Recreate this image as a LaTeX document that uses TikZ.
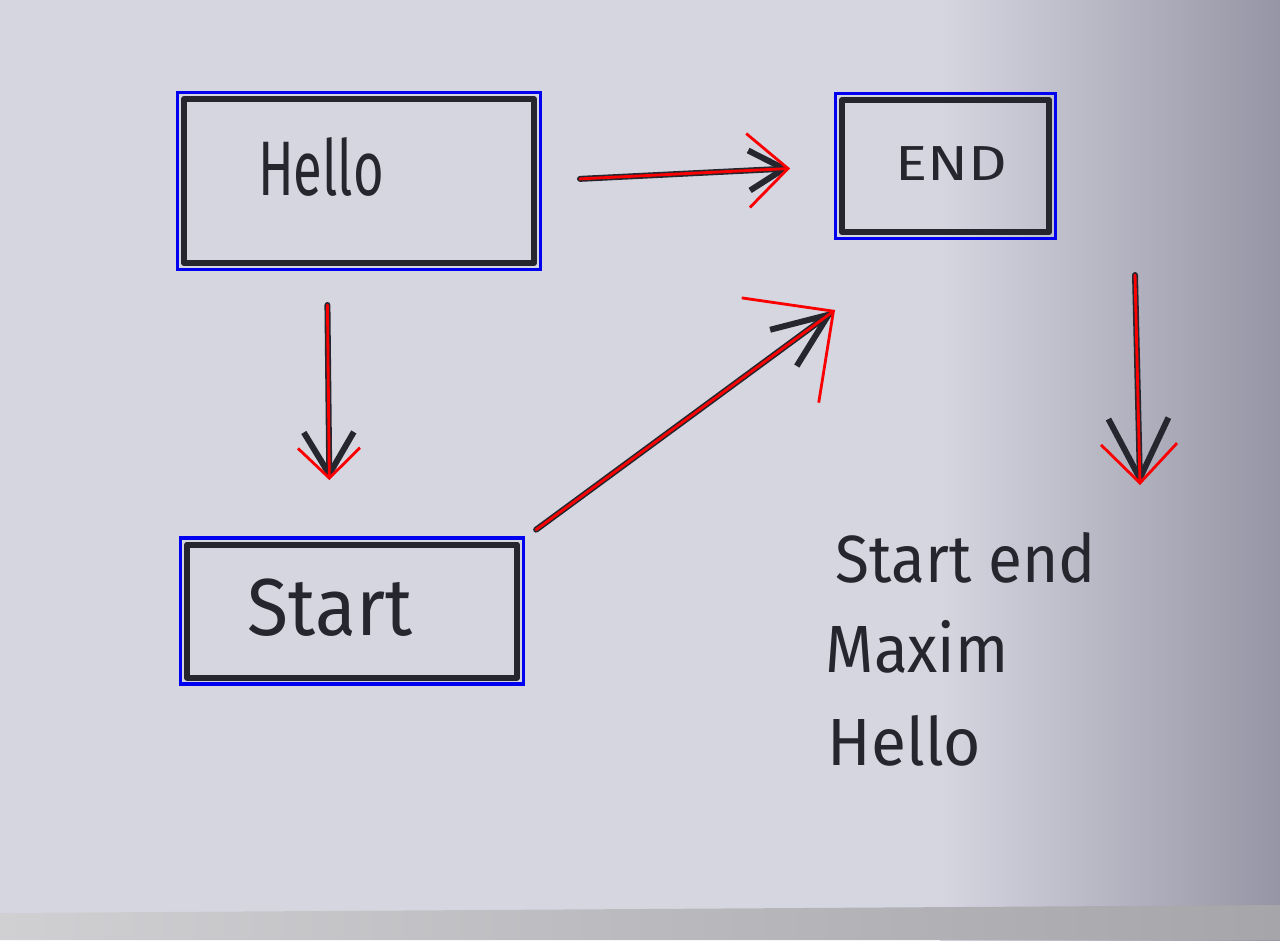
\documentclass[tikz,border=0pt]{standalone}
\usepackage{fontspec}
\setmainfont{Fira Sans}
\newfontfamily\handfont{Fira Sans}
\usetikzlibrary{arrows.meta,fit}

\definecolor{paperlight}{RGB}{214,214,225}
\definecolor{paperdark}{RGB}{150,149,165}
\definecolor{tablelight}{RGB}{208,208,211}
\definecolor{tabledark}{RGB}{165,165,170}
\definecolor{marker}{RGB}{38,38,46}
\definecolor{boxblue}{RGB}{0,0,240}
\definecolor{hintred}{RGB}{250,0,0}

\tikzset{
  box/.style={draw=marker, line width=1.7pt, line join=round},
  hand/.style 2 args={text=marker,
    font=\handfont\addfontfeatures{FakeStretch=#2}\fontsize{#1}{#1}\selectfont},
  detect/.style={draw=boxblue, line width=0.9pt, inner sep=0.035cm},
  ink/.style={draw=marker, line width=1.7pt, line cap=round},
  hint/.style={draw=hintred, line width=0.8pt},
  flow/.style n args={4}{ink, -{Straight Barb[length=#1,width=#2]},
    postaction={hint, -{Straight Barb[length=#3,width=#4]}}}
}

\begin{document}
\begin{tikzpicture}
  \useasboundingbox (0,0) rectangle (12.8,9.4);
  % sheet of paper on the table
  \fill[paperlight] (0,0) rectangle (12.8,9.4);
  \shade[left color=paperlight, right color=paperdark] (9.4,0) rectangle (12.8,9.4);
  \shade[left color=tablelight, right color=tabledark] (0,0) -- (12.8,0) -- (12.8,0.35) -- (0,0.27) -- cycle;

  % boxes
  \node[box, minimum width=3.50cm, minimum height=1.64cm,
    label={[hand={22}{0.68}, xshift=-0.38cm, yshift=0.14cm]center:Hello}] (hello) at (3.59,7.59) {};
  \node[box, minimum width=2.07cm, minimum height=1.32cm,
    label={[hand={14}{1.22}, xshift=0.06cm, yshift=0.02cm]center:END}] (endbox) at (9.455,7.74) {};
  \node[box, minimum width=3.30cm, minimum height=1.33cm,
    label={[hand={23}{0.93}, xshift=-0.22cm, yshift=0.03cm]center:Start}] (start) at (3.52,3.29) {};

  % detected boxes
  \node[detect, fit=(hello)] (hellofound) {};
  \node[detect, fit=(endbox)] (endfound) {};
  \node[detect, fit=(start)] (startfound) {};

  % notes
  \node[hand={19}{0.93}, anchor=base west, inner sep=0pt] (notestart) at (8.35,3.58) {Start end};
  \node[hand={19}{0.93}, anchor=base west, inner sep=0pt] (notemaxim) at (8.25,2.68) {Maxim};
  \node[hand={19}{0.96}, anchor=base west, inner sep=0pt] (notehello) at (8.27,1.75) {Hello};

  % arrows
  \coordinate (drop) at (11.35,6.65);
  \coordinate (droptip) at (11.40,4.55);
  \draw[flow={3.5mm}{4mm}{4mm}{7.4mm}, shorten <=0.43cm, shorten >=0.49cm]
    (hello.east) -- (endbox.west);
  \draw[flow={4.2mm}{5mm}{3mm}{6.2mm}, shorten <=0.39cm, shorten >=0.615cm]
    ([xshift=-0.32cm]hello.south) -- ([xshift=-0.22cm]start.north);
  \draw[flow={5.6mm}{4.5mm}{6.6mm}{13mm}, shorten <=0.2cm]
    (start.north east) -- ([xshift=-0.04cm,yshift=-0.75cm]endbox.south west);
  \draw[flow={6mm}{6mm}{3.9mm}{7.6mm}] (drop) -- (droptip);
\end{tikzpicture}
\end{document}
